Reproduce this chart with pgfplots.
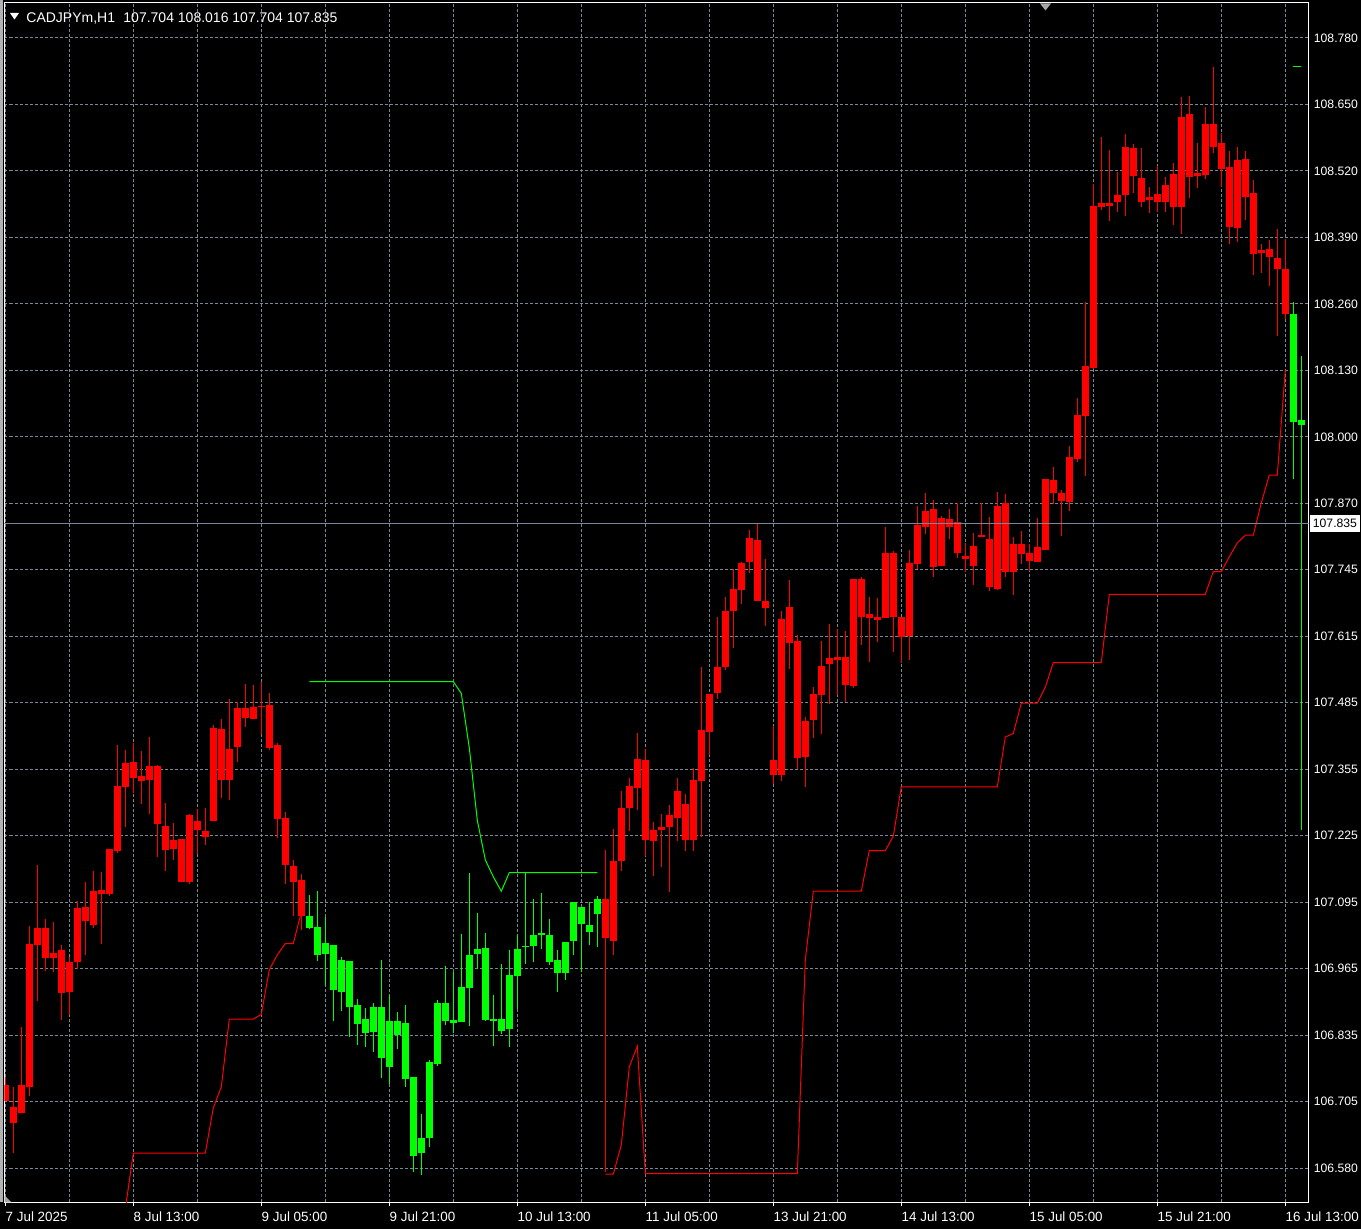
\documentclass[border=0pt]{standalone}
\usepackage{fontspec}
\setmainfont{Liberation Sans}
\usepackage{pgfplots}
\usepackage{pgfplotstable}
\pgfplotsset{compat=1.18}
\definecolor{gridc}{HTML}{778899}
\definecolor{mtred}{HTML}{FF0000}
\definecolor{mtgreen}{HTML}{00FF00}
\newcommand\mtfont{\fontsize{7}{8}\selectfont}
\newcommand\xfont{\fontsize{6.7}{8}\selectfont}
\newcommand\yfont{\fontsize{6.1}{7}\selectfont}

\pgfplotstableread{
i hi lo top bot
0 106.757 106.710 106.742 106.710
1 106.737 106.609 106.699 106.668
2 106.855 106.688 106.742 106.688
3 107.051 106.720 107.017 106.738
4 107.170 106.906 107.047 107.015
5 107.065 106.964 107.047 106.988
6 107.059 106.962 106.999 106.988
7 107.014 106.869 107.004 106.921
8 106.991 106.877 106.981 106.923
9 107.099 106.967 107.086 106.982
10 107.137 106.995 107.088 107.060
11 107.158 107.047 107.119 107.054
12 107.156 107.017 107.122 107.114
13 107.201 107.110 107.201 107.114
14 107.404 107.194 107.324 107.198
15 107.394 107.243 107.369 107.322
16 107.407 107.310 107.370 107.340
17 107.392 107.289 107.343 107.334
18 107.419 107.270 107.363 107.336
19 107.365 107.186 107.363 107.250
20 107.291 107.159 107.246 107.200
21 107.252 107.180 107.219 107.202
22 107.221 107.137 107.221 107.137
23 107.269 107.132 107.267 107.137
24 107.279 107.192 107.256 107.239
25 107.281 107.209 107.236 107.225
26 107.442 107.255 107.437 107.255
27 107.454 107.301 107.435 107.336
28 107.493 107.296 107.396 107.336
29 107.487 107.371 107.476 107.400
30 107.522 107.439 107.476 107.457
31 107.520 107.454 107.478 107.454
32 107.527 107.424 107.480 107.477
33 107.505 107.393 107.481 107.397
34 107.408 107.223 107.403 107.260
35 107.273 107.133 107.261 107.169
36 107.180 107.070 107.168 107.137
37 107.153 107.044 107.141 107.070
75 107.199 106.572 107.104 107.027
76 107.240 106.994 107.178 107.021
77 107.314 107.159 107.281 107.178
78 107.339 107.237 107.324 107.281
79 107.427 107.277 107.377 107.320
80 107.396 107.187 107.375 107.219
81 107.254 107.148 107.238 107.216
82 107.269 107.167 107.243 107.239
83 107.287 107.118 107.268 107.243
84 107.339 107.216 107.314 107.261
85 107.308 107.198 107.289 107.219
86 107.359 107.198 107.335 107.218
87 107.555 107.224 107.433 107.334
88 107.503 107.385 107.503 107.429
89 107.653 107.494 107.555 107.505
90 107.691 107.550 107.664 107.555
91 107.747 107.592 107.707 107.664
92 107.760 107.679 107.758 107.706
93 107.823 107.739 107.806 107.759
94 107.835 107.684 107.803 107.684
95 107.766 107.636 107.684 107.671
96 107.440 107.328 107.375 107.346
97 107.664 107.334 107.649 107.346
98 107.725 107.552 107.672 107.603
99 107.618 107.356 107.606 107.379
100 107.458 107.321 107.451 107.381
101 107.517 107.418 107.503 107.453
102 107.606 107.424 107.557 107.500
103 107.639 107.483 107.573 107.562
104 107.629 107.500 107.574 107.570
105 107.625 107.487 107.575 107.521
106 107.727 107.514 107.727 107.519
107 107.730 107.599 107.727 107.652
108 107.692 107.566 107.658 107.650
109 107.690 107.605 107.653 107.646
110 107.828 107.650 107.778 107.650
111 107.782 107.584 107.778 107.652
112 107.653 107.564 107.653 107.613
113 107.784 107.570 107.758 107.615
114 107.869 107.747 107.832 107.755
115 107.894 107.815 107.859 107.828
116 107.881 107.731 107.863 107.751
117 107.849 107.753 107.846 107.753
118 107.863 107.804 107.844 107.828
119 107.875 107.768 107.837 107.778
120 107.797 107.740 107.772 107.765
121 107.817 107.716 107.791 107.753
122 107.874 107.809 107.812 107.809
123 107.847 107.704 107.805 107.711
124 107.896 107.706 107.869 107.708
125 107.892 107.730 107.875 107.741
126 107.808 107.696 107.795 107.741
127 107.820 107.756 107.795 107.776
128 107.794 107.742 107.778 107.762
129 107.846 107.760 107.789 107.760
130 107.922 107.784 107.922 107.784
131 107.944 107.873 107.920 107.895
132 107.900 107.811 107.895 107.878
133 107.986 107.860 107.965 107.877
134 108.079 107.954 108.046 107.961
135 108.266 107.928 108.141 108.044
136 108.496 108.135 108.453 108.138
137 108.587 108.446 108.459 108.451
138 108.562 108.424 108.459 108.453
139 108.520 108.442 108.474 108.461
140 108.593 108.433 108.568 108.474
141 108.574 108.479 108.566 108.511
142 108.566 108.450 108.508 108.460
143 108.490 108.440 108.470 108.465
144 108.531 108.442 108.476 108.460
145 108.509 108.442 108.494 108.461
146 108.537 108.415 108.515 108.451
147 108.665 108.399 108.626 108.450
148 108.667 108.469 108.632 108.510
149 108.576 108.487 108.517 108.512
150 108.646 108.505 108.613 108.513
151 108.724 108.557 108.613 108.568
152 108.595 108.489 108.576 108.524
153 108.560 108.378 108.528 108.412
154 108.568 108.383 108.543 108.411
155 108.560 108.426 108.545 108.471
156 108.504 108.319 108.478 108.360
157 108.379 108.322 108.368 108.362
158 108.387 108.297 108.369 108.354
159 108.408 108.199 108.352 108.330
160 108.389 108.232 108.330 108.243
}\redbars

\pgfplotstableread{
i hi lo top bot
38 107.112 107.046 107.071 107.048
39 107.119 106.984 107.049 106.995
40 107.069 106.935 107.018 106.997
41 107.014 106.867 107.014 106.927
42 106.991 106.885 106.985 106.923
43 106.983 106.836 106.983 106.894
44 106.909 106.820 106.897 106.861
45 106.892 106.816 106.870 106.843
46 106.901 106.805 106.893 106.845
47 106.985 106.755 106.893 106.795
48 106.917 106.744 106.866 106.777
49 106.884 106.811 106.866 106.839
50 106.897 106.738 106.862 106.754
51 106.757 106.573 106.757 106.604
52 106.685 106.567 106.638 106.610
53 106.790 106.620 106.787 106.638
54 106.907 106.779 106.901 106.783
55 106.973 106.859 106.901 106.867
56 106.962 106.842 106.868 106.863
57 107.035 106.865 106.932 106.865
58 107.155 106.857 106.994 106.931
59 107.076 106.968 107.006 106.997
60 107.037 106.867 107.009 106.868
61 106.917 106.818 106.870 106.867
62 106.977 106.840 106.870 106.846
63 107.004 106.816 106.956 106.850
64 107.033 106.890 107.006 106.953
65 107.155 106.978 107.012 107.010
66 107.104 106.981 107.033 107.013
67 107.115 107.006 107.037 107.033
68 107.065 106.976 107.033 106.982
69 107.004 106.923 106.985 106.960
70 107.020 106.947 107.020 106.960
71 107.098 106.995 107.098 107.021
72 107.088 106.961 107.088 107.056
73 107.098 107.015 107.054 107.040
74 107.110 107.011 107.104 107.074
161 108.266 107.921 108.243 108.033
162 108.161 107.239 108.036 108.027
}\greenbars

\pgfplotstableread{
i v
15 106.500
16 106.609
25 106.609
26 106.697
27 106.738
28 106.870
31 106.870
32 106.879
33 106.966
34 106.995
35 107.017
36 107.017
37 107.078
}\redlineA

\pgfplotstableread{
i v
75 106.568
76 106.568
77 106.625
78 106.777
79 106.817
80 106.569
99 106.569
100 106.985
101 107.119
107 107.119
108 107.198
110 107.198
111 107.226
112 107.322
124 107.322
125 107.419
126 107.426
127 107.485
129 107.485
130 107.516
131 107.564
137 107.564
138 107.697
150 107.697
151 107.741
152 107.741
153 107.770
154 107.797
155 107.812
156 107.812
157 107.875
158 107.929
159 107.929
160 108.134
}\redlineB

\pgfplotstableread{
i v
38 107.527
56 107.527
57 107.504
58 107.398
59 107.257
60 107.180
61 107.147
62 107.119
63 107.155
74 107.155
}\greenline

\begin{document}
\begin{tikzpicture}
\fill[black] (-2.25pt,-13.25pt) rectangle (678.25pt,601.25pt);
\useasboundingbox (-2.25pt,-13.25pt) rectangle (678.25pt,601.25pt);
\fill[gray!60] (-2.25pt,0pt) rectangle (-0.75pt,601.25pt);
\begin{axis}[
  at={(0pt,0pt)}, anchor=south west,
  scale only axis, width=652pt, height=600pt,
  xmin=-0.1, xmax=162.9, ymin=106.5129, ymax=108.8491,
  axis line style={white, line width=0.5pt},
  xtick={0,16,...,160},
  xticklabels={7 Jul 2025,8 Jul 13:00,9 Jul 05:00,9 Jul 21:00,10 Jul 13:00,11 Jul 05:00,13 Jul 21:00,14 Jul 13:00,15 Jul 05:00,15 Jul 21:00,16 Jul 13:00},
  minor xtick={8,24,...,152},
  ytick={108.780,108.6506,108.5212,108.3918,108.2624,108.1329,108.0035,107.8741,107.7447,107.6153,107.4859,107.3565,107.2271,107.0976,106.9682,106.8388,106.7094,106.5800},
  yticklabels={108.780,108.650,108.520,108.390,108.260,108.130,108.000,107.870,107.745,107.615,107.485,107.355,107.225,107.095,106.965,106.835,106.705,106.580},
  grid=both,
  major grid style={gridc, dash pattern=on 1.5pt off 1pt, line width=0.5pt},
  minor grid style={gridc, dash pattern=on 1.5pt off 1pt, line width=0.5pt},
  xtick pos=left, ytick pos=right, yticklabel pos=right,
  tick align=outside, major tick length=2pt, minor tick length=0pt,
  xtick style={white, line width=0.5pt},
  ytick style={draw=none},
  xticklabel style={anchor=north west, inner sep=0pt, xshift=0pt, yshift=-2.5pt, text=white, font=\xfont},
  yticklabel style={anchor=west, inner sep=0pt, xshift=0.5pt, text=white, font=\yfont},
]
% indicator lines
\addplot[mtred, line width=0.5pt, mark=none, forget plot] table[x=i, y=v] {\redlineA};
\addplot[mtred, line width=0.5pt, mark=none, forget plot] table[x=i, y=v] {\redlineB};
\addplot[mtgreen, line width=0.5pt, mark=none, forget plot] table[x=i, y=v] {\greenline};
\addplot[mtgreen, line width=0.5pt, mark=none, forget plot] coordinates {(161,108.724) (162,108.724)};
% wicks
\addplot[draw=none, mark=none, forget plot, error bars/.cd, y dir=plus, y explicit, error mark=none,
  error bar style={draw=mtred, solid, line width=0.5pt}]
  table[x=i, y=lo, y error plus expr=\thisrow{hi}-\thisrow{lo}] {\redbars};
\addplot[draw=none, mark=none, forget plot, error bars/.cd, y dir=plus, y explicit, error mark=none,
  error bar style={draw=mtgreen, solid, line width=0.5pt}]
  table[x=i, y=lo, y error plus expr=\thisrow{hi}-\thisrow{lo}] {\greenbars};
% bodies
\addplot[draw=none, mark=none, forget plot, error bars/.cd, y dir=plus, y explicit, error mark=none,
  error bar style={draw=mtred, solid, line width=3.5pt}]
  table[x=i, y=bot, y error plus expr=\thisrow{top}-\thisrow{bot}] {\redbars};
\addplot[draw=none, mark=none, forget plot, error bars/.cd, y dir=plus, y explicit, error mark=none,
  error bar style={draw=mtgreen, solid, line width=3.5pt}]
  table[x=i, y=bot, y error plus expr=\thisrow{top}-\thisrow{bot}] {\greenbars};
% bid price line
\addplot[gridc, line width=0.5pt, mark=none, forget plot] coordinates {(-1,107.835) (170,107.835)};
\coordinate (pl) at (axis cs:162.9,107.835);
\end{axis}
\node[anchor=west, fill=white, text=black, font=\yfont, inner xsep=1.5pt, inner ysep=0pt, minimum height=8.5pt, xshift=0.5pt] at (pl) {107.835};
% header
\fill[white] (2.75pt,594.75pt) -- (7.25pt,594.75pt) -- (5pt,591.5pt) -- cycle;
\node[anchor=base west, inner sep=0pt, text=white, font=\mtfont] at (10.75pt,590pt) {CADJPYm,H1\hspace{0.6em}107.704 108.016 107.704 107.835};
\fill[gray!70] (517.75pt,599.5pt) -- (523.25pt,599.5pt) -- (520.5pt,596pt) -- cycle;
\fill[gray!70] (0pt,0pt) -- (0pt,3.5pt) -- (3.5pt,0pt) -- cycle;
\end{tikzpicture}
\end{document}
